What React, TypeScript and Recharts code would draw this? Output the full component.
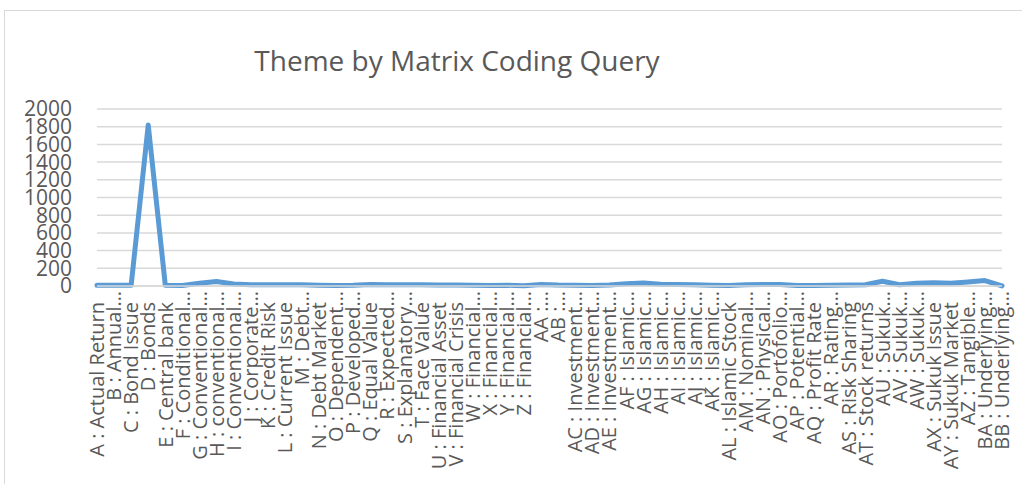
import React from "react";
import { LineChart, Line, XAxis, YAxis, CartesianGrid } from "recharts";

const categories = [
  "A : Actual Return", "B : Annual…", "C : Bond Issue", "D : Bonds", "E : Central bank",
  "F : Conditional…", "G : Conventional…", "H : conventional…", "I : Conventional…", "J : Corporate…",
  "K : Credit Risk", "L : Current Issue", "M : Debt…", "N : Debt Market", "O : Dependent…",
  "P : Developed…", "Q : Equal Value", "R : Expected…", "S : Explanatory…", "T : Face Value",
  "U : Financial Asset", "V : Financial Crisis", "W : Financial…", "X : Financial…", "Y : Financial…",
  "Z : Financial…", "AA :…", "AB :…", "AC : Investment…", "AD : Investment…",
  "AE : Investment…", "AF : Islamic…", "AG : Islamic…", "AH : Islamic…", "AI : Islamic…",
  "AJ : Islamic…", "AK : Islamic…", "AL : Islamic Stock", "AM : Nominal…", "AN : Physical…",
  "AO : Portofolio…", "AP : Potential…", "AQ : Profit Rate", "AR : Rating…", "AS : Risk Sharing",
  "AT : Stock returns", "AU : Sukuk…", "AV : Sukuk…", "AW : Sukuk…", "AX : Sukuk Issue",
  "AY : Sukuk Market", "AZ : Tangible…", "BA : Underlying…", "BB : Underlying…",
];

const values = [
  8, 8, 8, 1820, 8, 5, 30, 50, 22, 15,
  15, 15, 15, 8, 5, 8, 16, 14, 14, 14,
  12, 10, 8, 5, 8, 3, 18, 10, 8, 5,
  10, 25, 35, 20, 18, 14, 8, 5, 14, 18,
  18, 5, 5, 8, 10, 14, 53, 14, 30, 38,
  30, 45, 62, 2,
];

const yTicks = [0, 200, 400, 600, 800, 1000, 1200, 1400, 1600, 1800, 2000];

const title = "Theme by Matrix Coding Query";

const data = categories.map((c, i) => ({ name: c, value: values[i] }));

const FONT = "'Open Sans', 'Noto Sans', sans-serif";
const TEXT = "#595959";

const XTick = (props: any) => {
  const { x, y, payload } = props;
  const label: string = payload.value;
  const trunc = label.endsWith("…");
  return (
    <g transform={`translate(${x},${y + (trunc ? 5 : 16)})`}>
      <text
        transform="rotate(-90)"
        textAnchor="end"
        dy="0.36em"
        fill={TEXT}
        fontSize={20}
        fontFamily={FONT}
      >
        {label}
      </text>
    </g>
  );
};

export default function App() {
  return (
    <div style={{ position: "absolute", left: 0, top: 0, width: 1022, height: 491, background: "#fff", overflow: "hidden" }}>
      <div style={{ position: "absolute", left: 4, top: 10, width: 1100, height: 473, borderLeft: "1px solid #d9d9d9", borderTop: "1px solid #d9d9d9" }} />
      <div
        style={{
          position: "absolute",
          left: 0,
          width: 914,
          top: 40,
          textAlign: "center",
          fontFamily: FONT,
          fontSize: 28,
          color: TEXT,
          lineHeight: "40px",
        }}
      >
        {title}
      </div>
      <div style={{ position: "absolute", left: 0, top: 0 }}>
        <LineChart width={1022} height={491} data={data} margin={{ top: 109, right: 20, left: 0, bottom: 0 }}>
          <CartesianGrid vertical={false} stroke="#d9d9d9" strokeWidth={1.5} />
          <XAxis
            dataKey="name"
            interval={0}
            height={205}
            axisLine={{ stroke: "#d9d9d9", strokeWidth: 1.5 }}
            tickLine={false}
            tickSize={0}
            tickMargin={0}
            tick={<XTick />}
          />
          <YAxis
            width={97}
            domain={[0, 2000]}
            ticks={yTicks}
            interval={0}
            axisLine={false}
            tickLine={false}
            tickSize={0}
            tickMargin={25}
            tick={{ fill: TEXT, fontSize: 21, fontFamily: FONT }}
          />
          <Line
            type="linear"
            dataKey="value"
            stroke="#5b9bd5"
            strokeWidth={5}
            strokeLinejoin="round"
            strokeLinecap="round"
            dot={false}
            activeDot={false}
            isAnimationActive={false}
          />
        </LineChart>
      </div>
    </div>
  );
}
